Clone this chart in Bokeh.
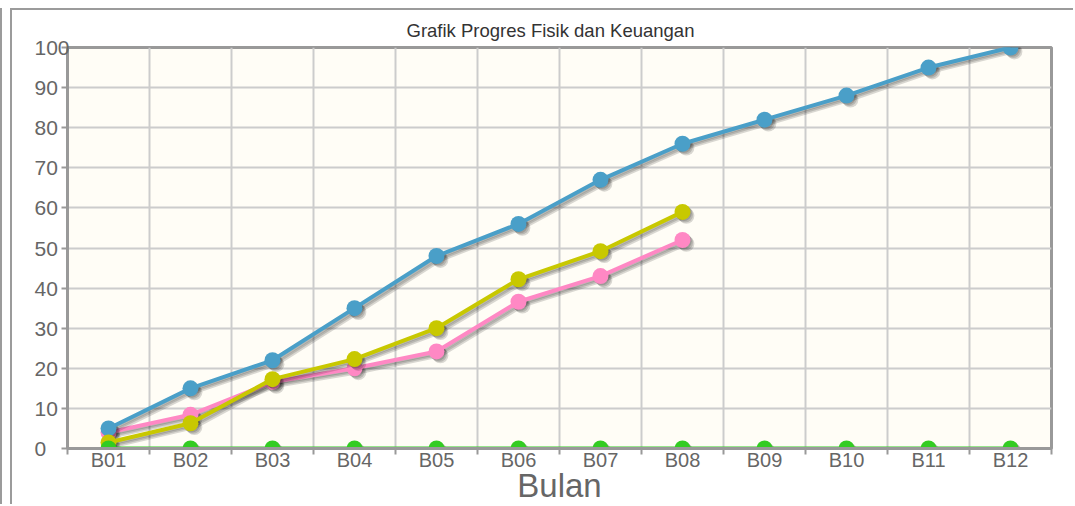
from bokeh.plotting import figure
from bokeh.models import Range1d, FixedTicker
from bokeh.embed import file_html
from bokeh.resources import INLINE

# ---- data ----
months = ["B01", "B02", "B03", "B04", "B05", "B06", "B07", "B08", "B09", "B10", "B11", "B12"]
rencana = [5, 15, 22, 35, 48, 56, 67, 76, 82, 88, 95, 100]
realisasi_fisik = [4, 8.4, 16.6, 20, 24.2, 36.6, 43, 52]
realisasi_keuangan = [1.5, 6.3, 17.3, 22.3, 30, 42.2, 49.2, 59]
deviasi = [0, 0, 0, 0, 0, 0, 0, 0, 0, 0, 0, 0]
y_ticks = [0, 10, 20, 30, 40, 50, 60, 70, 80, 90, 100]
title_text = "Grafik Progres Fisik dan Keuangan"
x_title = "Bulan"

# ---- layout ----
W, H = 1063, 496
BL, BR, BT, BB = 55, 24, 36, 57
FW, FH = W - BL - BR, H - BT - BB
n = len(months)
ymax = 100
px_x = FW / n          # pixels per x unit
px_y = FH / ymax       # pixels per y unit

p = figure(width=W, height=H, x_range=Range1d(0, n), y_range=Range1d(0, ymax),
           output_backend="svg", toolbar_location=None,
           min_border_left=BL, min_border_right=BR, min_border_top=BT, min_border_bottom=BB,
           background_fill_color="#fffdf6", border_fill_color="white")
p.styles = {"margin-top": "8px", "margin-left": "10px",
            "border-top": "2px solid #9b9b9b", "border-left": "2px solid #9b9b9b",
            "box-shadow": "-8px 0 0 0 white, -10px 0 0 0 #9b9b9b"}

p.title.text = title_text
p.title.align = "left"
p.title.offset = 339
p.title.standoff = 14
p.title.text_font = "Liberation Sans"
p.title.text_font_size = "18.5px"
p.title.text_font_style = "normal"
p.title.text_color = "#333333"

p.outline_line_color = "#999999"
p.outline_line_width = 3

# x axis
xa = p.xaxis[0]
centers = [i + 0.5 for i in range(n)]
xa.ticker = FixedTicker(ticks=centers, minor_ticks=list(range(n + 1)))
xa.major_label_overrides = {c: m for c, m in zip(centers, months)}
xa.major_tick_out = 0
xa.major_tick_in = 0
xa.minor_tick_out = 6
xa.minor_tick_in = 0
xa.minor_tick_line_color = "#999999"
xa.minor_tick_line_width = 2
xa.axis_line_color = "#999999"
xa.axis_line_width = 3
xa.major_label_standoff = -6
xa.major_label_text_font = "Liberation Sans"
xa.major_label_text_font_size = "20px"
xa.major_label_text_color = "#666666"
xa.axis_label = x_title
xa.axis_label_standoff = -7
xa.axis_label_text_font = "Liberation Sans"
xa.axis_label_text_font_size = "33px"
xa.axis_label_text_font_style = "normal"
xa.axis_label_text_color = "#666666"

# y axis: labels left aligned (padded with figure spaces, same width as a digit)
ya = p.yaxis[0]
ya.ticker = FixedTicker(ticks=y_ticks, minor_ticks=[])
width_digits = max(len(str(v)) for v in y_ticks)
ya.major_label_overrides = {v: str(v) + "\u2007" * (width_digits - len(str(v))) for v in y_ticks}
ya.major_tick_out = 6
ya.major_tick_in = 0
ya.major_tick_line_color = "#999999"
ya.major_tick_line_width = 2
ya.axis_line_color = "#999999"
ya.axis_line_width = 3
ya.major_label_standoff = -8
ya.major_label_text_font = "Liberation Sans"
ya.major_label_text_font_size = "21px"
ya.major_label_text_color = "#666666"

p.xgrid.ticker = FixedTicker(ticks=list(range(n + 1)))
p.ygrid.ticker = FixedTicker(ticks=y_ticks)
for g in (p.xgrid[0], p.ygrid[0]):
    g.grid_line_color = "#cccccc"
    g.grid_line_width = 2

series = [
    (realisasi_fisik, "#ff88c4"),
    (rencana, "#4a9fc8"),
    (realisasi_keuangan, "#c8c800"),
    (deviasi, "#33cc22"),
]
for vals, col in series:
    xs = [i + 0.5 for i in range(len(vals))]
    for k in (1, 2, 3):
        d = 1.3 * k
        sx = [x + d / px_x for x in xs]
        sy = [v - d / px_y for v in vals]
        p.line(sx, sy, line_color="black", line_alpha=0.15, line_width=4)
        p.scatter(sx, sy, size=16, fill_color="black", fill_alpha=0.15, line_alpha=0)
    p.line(xs, vals, line_color=col, line_width=4)
    p.scatter(xs, vals, size=16, fill_color=col, line_color=col, line_width=0)

open("out.html", "w").write(file_html(p, INLINE))
